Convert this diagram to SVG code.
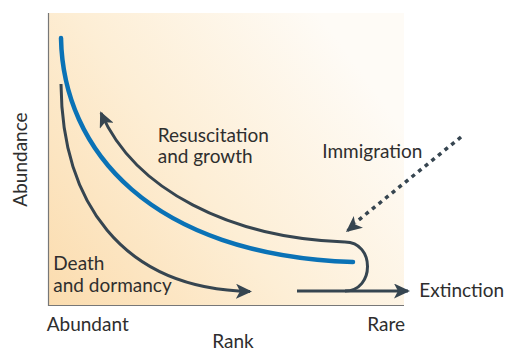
<svg xmlns="http://www.w3.org/2000/svg" width="505" height="351" viewBox="0 0 505 351">
<style>
text{font-family:Lato,"Liberation Sans",sans-serif;font-size:19px;fill:#2e2e2e}
.arr{fill:none;stroke:#364550;stroke-width:3}
</style>
<defs>
<linearGradient id="bg" x1="0" y1="1" x2="1" y2="0.4">
<stop offset="0" stop-color="#fbdcae"/>
<stop offset="0.5" stop-color="#fdeed5"/>
<stop offset="1" stop-color="#fefbf6"/>
</linearGradient>
<marker id="ah" viewBox="0 0 16 15" refX="14" refY="7.5" markerWidth="16" markerHeight="15" markerUnits="userSpaceOnUse" orient="auto">
<path d="M0,0 L16,7.5 L0,15 L4,7.5 z" fill="#364550"/>
</marker>
</defs>
<rect x="48" y="13" width="356" height="293" fill="url(#bg)"/>
<path d="M48.5,13 V305.5 H404" fill="none" stroke="#777" stroke-width="1.2"/>
<g id="connectors">
<path id="blue" d="M61,38 C63,150 150,255 353,262" fill="none" stroke="#0a72b6" stroke-width="4.5" stroke-linecap="round"/>
<path class="arr" d="M61,84 C62,200 120,289 250,291.5" marker-end="url(#ah)"/>
<path class="arr" d="M345,242 C230,238 135,190 101,113" marker-end="url(#ah)"/>
<path class="arr" d="M345,242 C375,242 375,291 345,291"/>
<path class="arr" d="M297,291 H408" marker-end="url(#ah)"/>
<path d="M461,137 L355,223" fill="none" stroke="#364550" stroke-width="3.5" stroke-dasharray="4 4.5"/>
<path d="M349,229.5 L347.5,230.7" class="arr" marker-end="url(#ah)"/>
</g>
<g id="labels">
<text x="157.7" y="142">Resuscitation</text>
<text x="157.7" y="163">and growth</text>
<text x="322.3" y="158">Immigration</text>
<text x="53.3" y="270">Death</text>
<text x="53.3" y="292">and dormancy</text>
<text x="419.3" y="297">Extinction</text>
<text x="46.7" y="331">Abundant</text>
<text x="405" y="331" text-anchor="end">Rare</text>
<text x="233" y="348" text-anchor="middle">Rank</text>
<text transform="translate(26.5,159.5) rotate(-90)" text-anchor="middle">Abundance</text>
</g>
</svg>
